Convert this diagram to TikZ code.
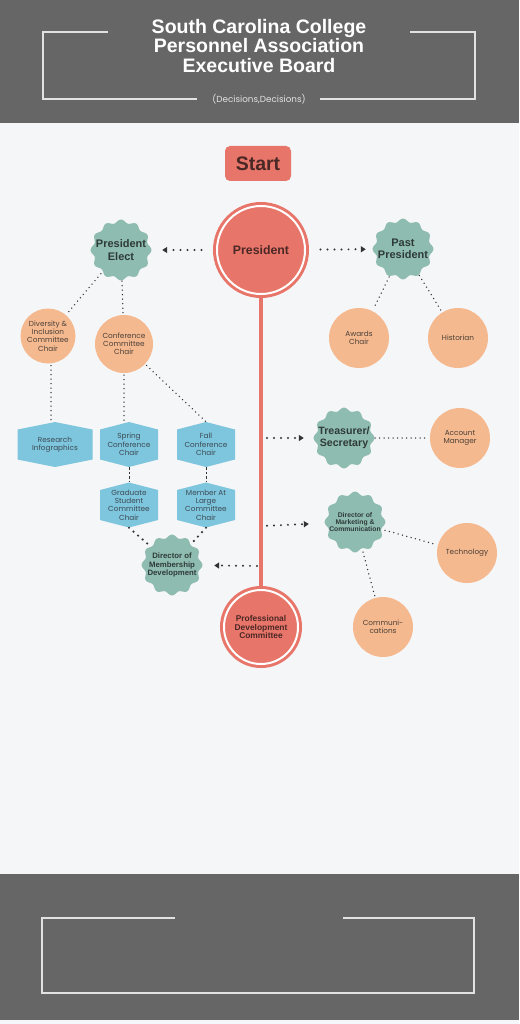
\documentclass[tikz,border=0pt]{standalone}
\usepackage{fontspec}
\setmainfont{Liberation Sans}
\newfontfamily\roundfont{Poppins}
\usetikzlibrary{arrows.meta, positioning}

\definecolor{bandc}{HTML}{666666}
\definecolor{paperc}{HTML}{F5F6F8}
\definecolor{framec}{HTML}{E2E2E2}
\definecolor{redc}{HTML}{E8756A}
\definecolor{redtxt}{HTML}{4A2825}
\definecolor{tealc}{HTML}{8FBCB0}
\definecolor{sealtxt}{HTML}{2E3A38}
\definecolor{orangec}{HTML}{F5B98F}
\definecolor{chairtxt}{HTML}{4B4038}
\definecolor{bluec}{HTML}{7EC5DE}
\definecolor{hextxt}{HTML}{3B4A52}
\definecolor{dotc}{HTML}{333333}

% wavy badge: name, x, y, font size, line skip, text
\newcommand{\sealnode}[6]{%
  \fill[tealc, shift={(#2,#3)}] plot[domain=0:360, samples=181, smooth] (\x:{28.8+1.6*cos(12*\x)}) -- cycle;
  \node[seal, font=\bfseries\fontsize{#4}{#5}\selectfont] (#1) at (#2,#3) {#6};}
% hexagon box: name, x, y, half width, text
\newcommand{\hexnode}[5]{%
  \fill[bluec, shift={(#2,#3)}] (-#4,-15) -- (0,-22.5) -- (#4,-15) -- (#4,15) -- (0,22.5) -- (-#4,15) -- cycle;
  \node[hexlbl, minimum width=2*#4] (#1) at (#2,#3) {#5};}

\begin{document}
\begin{tikzpicture}[x=1pt, y=-1pt,
  redring/.style={circle, fill=redc, draw=redc, double=white, double distance=2pt, line width=3pt,
    inner sep=0pt, align=center, text=redtxt},
  seal/.style={circle, minimum size=58pt, inner sep=0pt, align=center, text=sealtxt},
  chair/.style={circle, fill=orangec, minimum size=60pt, inner sep=0pt, align=center, text=chairtxt,
    font=\roundfont\fontsize{7.3}{8.2}\selectfont},
  hexlbl/.style={rectangle, minimum height=45pt, inner sep=0pt, align=center, text=hextxt,
    font=\roundfont\fontsize{7.3}{8.3}\selectfont},
  dotline/.style={draw=dotc, line width=1.5pt, line cap=round, dash pattern=on 0pt off 4.5pt},
  dotarrow/.style={draw=dotc, line width=2.2pt, line cap=round, dash pattern=on 0pt off 7pt,
    -{Triangle[length=5pt, width=6pt]}},
  stubline/.style={draw=dotc, line width=0.9pt, dash pattern=on 2.5pt off 2pt},
  frameline/.style={draw=framec, line width=1.2pt}]

\useasboundingbox (0,0) rectangle (519,1024);
\fill[paperc] (0,0) rectangle (519,1024);

% header
\fill[bandc] (0,0) rectangle (519,123);
\draw[frameline] (108,32) -- (43,32) -- (43,99) -- (197,99);
\draw[frameline] (410,32) -- (475,32) -- (475,99) -- (320,99);
\node[text=white, font=\bfseries\fontsize{19.5}{19.5}\selectfont, align=center] (title) at (259,46)
  {South Carolina College\\Personnel Association\\Executive Board};
\node[text=framec, font=\roundfont\fontsize{8.8}{10}\selectfont] (subtitle) at (259,99) {(Decisions,Decisions)};

% footer
\fill[bandc] (0,874) rectangle (519,1020);
\draw[frameline] (175,918) -- (42,918) -- (42,993) -- (474,993) -- (474,918) -- (343,918);

% start and the red spine
\node[rectangle, rounded corners=5pt, fill=redc, minimum width=66pt, minimum height=35pt, text=redtxt,
  font=\bfseries\fontsize{19.5}{20}\selectfont] (start) at (258,163.5) {Start};
\node[redring, minimum size=88pt, font=\bfseries\fontsize{12.3}{14}\selectfont] (pres) at (261,250) {President};
\node[redring, minimum size=74pt, font=\bfseries\fontsize{8.4}{8.4}\selectfont] (pdc) at (261,627)
  {Professional\\Development\\Committee};
\draw[redc, line width=4pt] (pres) -- (pdc);
\coordinate (tsx) at (261,438);
\coordinate (dmcx) at (261,526);
\coordinate (dmdx) at (261,566);

% teal badges
\sealnode{pe}{121}{250}{11}{12.3}{President\\Elect}
\sealnode{pp}{403}{249}{11}{12.3}{Past\\President}
\sealnode{ts}{344}{438}{10.6}{11.7}{Treasurer/\\Secretary}
\sealnode{dmc}{355}{522}{6.8}{7.2}{Director of\\Marketing \&\\Communication}
\sealnode{dmd}{172}{565}{7.8}{8.2}{Director of\\Membership\\Development}

% orange chairs
\node[chair, minimum size=55pt] (div) at (48,336) {Diversity \&\\Inclusion\\Committee\\Chair};
\node[chair, minimum size=58pt] (conf) at (124,344) {Conference\\Committee\\Chair};
\node[chair] (awards) at (359,338) {Awards\\Chair};
\node[chair] (hist) at (458,338) {Historian};
\node[chair] (acct) at (460,438) {Account\\Manager};
\node[chair] (tech) at (467,553) {Technology};
\node[chair] (comm) at (383,627) {Communi-\\cations};

% blue boxes
\hexnode{research}{55}{444.5}{37.5}{Research\\Infographics}
\hexnode{spring}{129}{444.5}{29}{Spring\\Conference\\Chair}
\hexnode{fall}{206}{444.5}{29}{Fall\\Conference\\Chair}
\hexnode{grad}{129}{505}{29}{Graduate\\Student\\Committee\\Chair}
\hexnode{member}{206}{505}{29}{Member At\\Large\\Committee\\Chair}

% arrows out of the president line
\draw[dotarrow, shorten <=14pt, shorten >=12pt] (pres) -- (pe);
\draw[dotarrow, shorten <=14pt, shorten >=8pt] (pres) -- (pp);
\draw[dotarrow, shorten <=6pt, shorten >=11pt] (tsx) -- (ts);
\draw[dotarrow, shorten <=6pt, shorten >=17pt] (dmcx) -- (dmc);
\draw[dotarrow, shorten <=4pt, shorten >=13pt] (dmdx) -- (dmd);

% dotted links
\draw[dotline, shorten <=2pt, shorten >=2pt] (pe) -- (div);
\draw[dotline, shorten <=2pt, shorten >=2pt] (pe) -- (conf);
\draw[dotline, shorten <=2pt] ([xshift=3pt]div.south) -- ([xshift=3pt]div.south |- research.north);
\draw[dotline, shorten <=2pt] (conf.south) -- (conf.south |- spring.north);
\draw[dotline, shorten <=2pt] (conf) -- (fall.north);
\draw[stubline] (spring.south) -- (grad.north);
\draw[stubline] (fall.south) -- (member.north);
\draw[dotline, line width=2.4pt, dash pattern=on 0pt off 6pt, shorten >=2pt] (grad.south) -- (dmd);
\draw[dotline, line width=2.4pt, dash pattern=on 0pt off 6pt, shorten >=2pt] (member.south) -- (dmd);
\draw[dotline, shorten <=2pt, shorten >=2pt] (pp) -- (awards);
\draw[dotline, shorten <=2pt, shorten >=2pt] (pp) -- (hist);
\draw[dotline, shorten <=2pt, shorten >=2pt] (ts) -- (acct);
\draw[dotline, shorten <=2pt, shorten >=2pt] (dmc) -- (tech);
\draw[dotline, shorten <=2pt, shorten >=2pt] (dmc) -- (comm);
\end{tikzpicture}
\end{document}
